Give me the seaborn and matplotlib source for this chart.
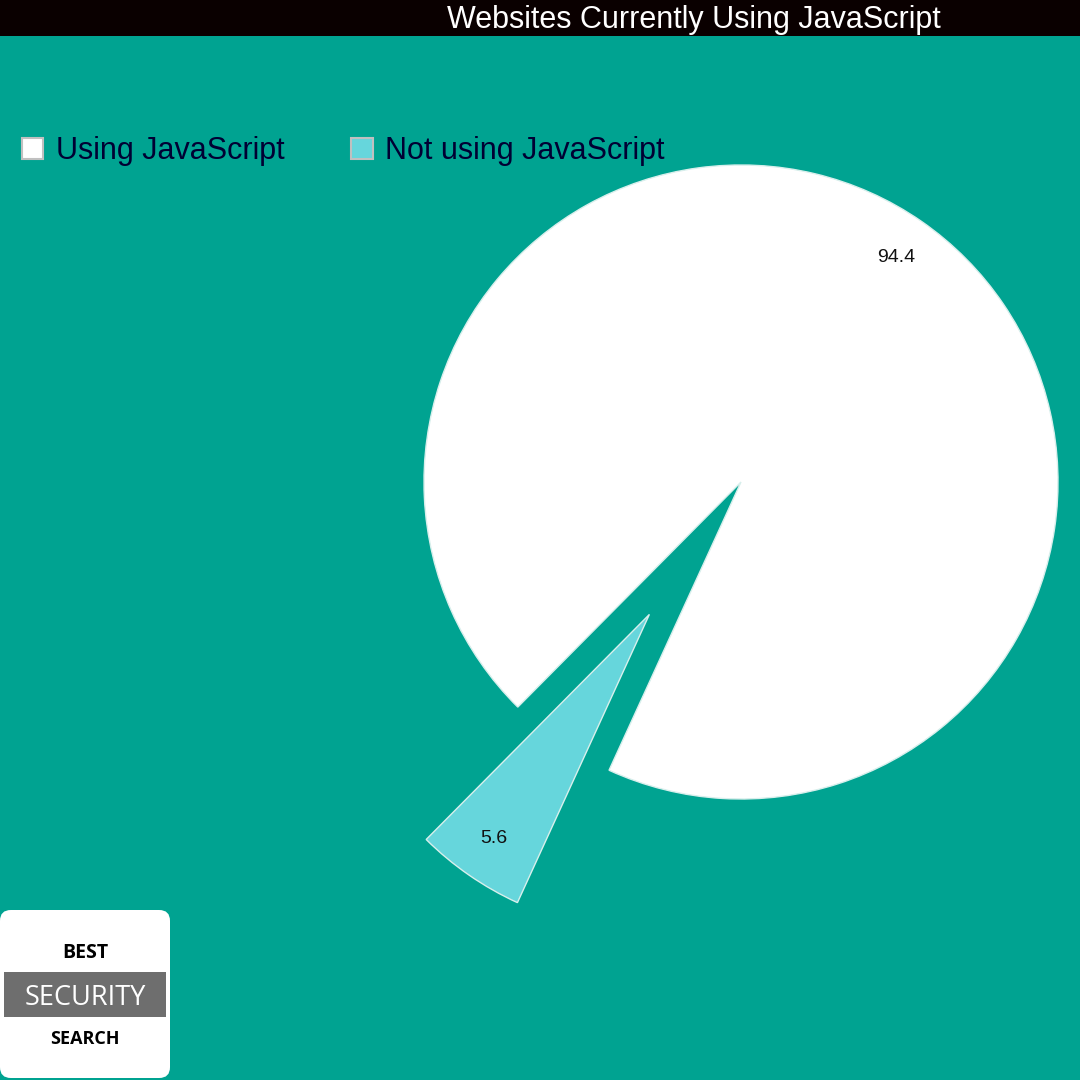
import numpy as np
import matplotlib
matplotlib.use("Agg")
import matplotlib.pyplot as plt
import seaborn as sns
from matplotlib.patches import Patch, Rectangle, FancyBboxPatch

# data
labels = ["Using JavaScript", "Not using JavaScript"]
values = [94.4, 5.6]
colors = ["#ffffff", "#66d6dc"]
title = "Websites Currently Using JavaScript"

sns.set_theme(style="white")
plt.rcParams["font.family"] = ["Liberation Sans", "DejaVu Sans"]

bg = "#00a391"
fig = plt.figure(figsize=(10.8, 10.8), dpi=100, facecolor=bg)
ax = fig.add_axes([0, 0, 1, 1])
ax.set_facecolor(bg)

# pie in pixel coords (y up); explode is in data units here
wedges, texts, autotexts = ax.pie(
    values, colors=colors, center=(741, 598), radius=317,
    startangle=245.4, counterclock=True, explode=[0, 161],
    autopct="%.1f", pctdistance=0.86,
    wedgeprops=dict(edgecolor="#d8efec", linewidth=1),
    textprops=dict(fontsize=14, color="#111111"),
    frame=True)
ax.set_xlim(0, 1080)
ax.set_ylim(0, 1080)
ax.axis("off")

# title bar
fig.patches.append(Rectangle((0, 1 - 36 / 1080), 1, 36 / 1080, transform=fig.transFigure,
                             facecolor="#0a0000", edgecolor="none", zorder=0))
fig.text(694 / 1080, 1 - 20 / 1080, title, color="white", fontsize=22,
         ha="center", va="center")

# legend
handles = [Patch(facecolor=c, edgecolor="#c0c0c0", linewidth=1.5) for c in colors]
leg = fig.legend(handles, labels, ncol=2, frameon=False, loc="center left",
                 bbox_to_anchor=(22 / 1080, 1 - 151 / 1080),
                 borderpad=0, borderaxespad=0,
                 fontsize=22, labelcolor="#000033",
                 handlelength=0.7, handleheight=0.7, handletextpad=0.4,
                 columnspacing=2.2)

# logo
logo_font = ["Open Sans", "DejaVu Sans"]
fig.patches.append(FancyBboxPatch((0, 2 / 1080), 170 / 1080, 168 / 1080,
                                  boxstyle="round,pad=0,rounding_size=0.01",
                                  transform=fig.transFigure, facecolor="white",
                                  edgecolor="none"))
fig.patches.append(Rectangle((4 / 1080, 1 - 1017 / 1080), 162 / 1080, 45 / 1080,
                             transform=fig.transFigure, facecolor="#6e6e6e",
                             edgecolor="none"))
fig.text(85 / 1080, 1 - 953 / 1080, "BEST", fontsize=14, fontweight="bold",
         ha="center", va="center", color="black", family=logo_font)
fig.text(85 / 1080, 1 - 998 / 1080, "SECURITY", fontsize=19.5,
         ha="center", va="center", color="white", family=logo_font)
fig.text(85 / 1080, 1 - 1039 / 1080, "SEARCH", fontsize=13, fontweight="bold",
         ha="center", va="center", color="black", family=logo_font)

fig.savefig("out.png", dpi=100, facecolor=bg)
